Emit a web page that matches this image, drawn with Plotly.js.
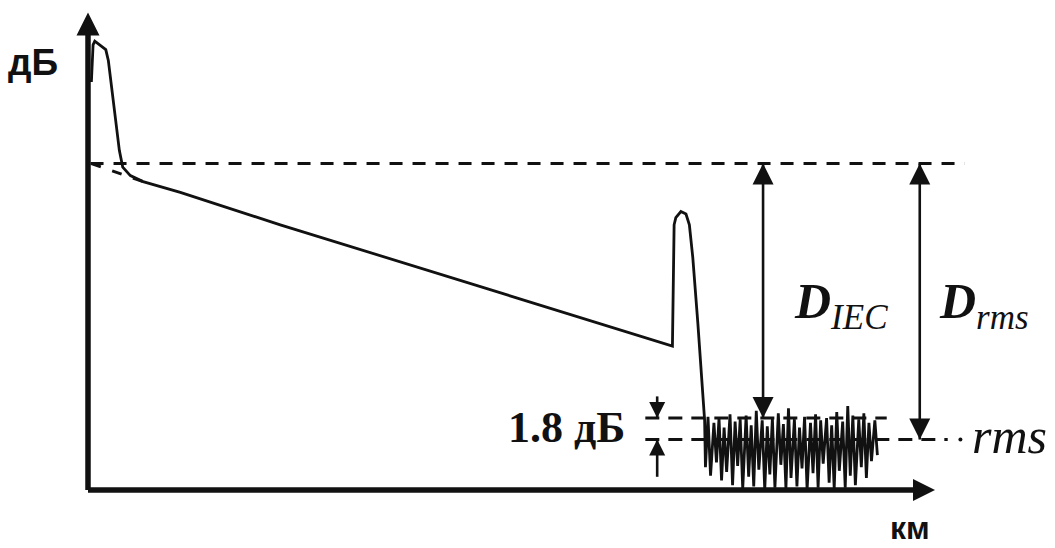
<!DOCTYPE html>
<html>
<head>
<meta charset="utf-8">
<script src="https://cdn.plot.ly/plotly-3.0.1.min.js"></script>
<style>html,body{margin:0;padding:0;background:#fff;}#chart{width:1055px;height:548px;}</style>
</head>
<body>
<div id="chart"></div>
<script>
// OTDR trace: distance (km) and level (dB) – schematic values
const traceKm = [0.4, 0.6, 0.8, 1.2, 1.7, 2.1, 2.4, 2.6, 3.0, 3.3, 3.7, 4.1, 5.0, 6.5, 10.9, 22.7, 69.0, 69.2, 69.4, 70.0, 70.6, 71.0, 71.4, 72.0, 72.5, 72.8];
const traceDb = [34.0, 37.1, 37.4, 37.2, 36.9, 36.7, 35.8, 34.6, 32.5, 30.4, 28.3, 26.9, 26.2, 25.7, 24.8, 22.1, 12.0, 22.1, 22.7, 23.2, 23.0, 22.1, 19.4, 13.9, 8.3, 5.8];
// noise floor after the fibre end
const noiseKm = [72.9, 73.2, 73.5, 73.9, 74.2, 74.5, 74.8, 75.1, 75.4, 75.8, 76.1, 76.4, 76.7, 77.0, 77.3, 77.7, 78.0, 78.3, 78.6, 78.9, 79.2, 79.6, 79.9, 80.2, 80.5, 80.8, 81.1, 81.5, 81.8, 82.1, 82.4, 82.7, 83.0, 83.4, 83.7, 84.0, 84.3, 84.6, 84.9, 85.3, 85.6, 85.9, 86.2, 86.5, 86.8, 87.2, 87.5, 87.8, 88.1, 88.4, 88.7, 89.1, 89.4, 89.7, 90.0, 90.3, 90.6, 91.0, 91.3, 91.6, 91.9, 92.2, 92.5, 92.9, 93.2];
const noiseDb = [1.9, 6.1, 1.2, 5.6, 2.3, 6.0, 0.8, 5.2, 1.5, 6.3, 0.4, 5.7, 2.0, 5.9, 0.1, 6.2, 1.1, 5.4, 0.3, 6.6, 1.7, 5.8, 0.0, 5.3, 1.3, 6.0, 0.2, 6.4, 2.1, 5.5, 0.1, 6.8, 1.0, 5.9, 0.3, 5.2, 1.8, 6.1, 0.0, 5.6, 1.4, 6.3, 0.2, 5.8, 2.2, 6.0, 0.6, 5.4, 0.1, 6.5, 1.6, 5.7, 0.2, 7.0, 1.2, 6.2, 0.4, 5.9, 1.9, 6.4, 1.0, 5.6, 2.4, 5.8, 2.9];
// levels (dB)
const levelTop = 27.2;       // backscatter level extrapolated to the start
const levelNoisePeak = 6.0;  // noise peak level
const levelRms = 4.2;        // rms noise level
const noiseSpan = 1.8;       // dB between rms and noise peak
// extrapolated start of backscatter line
const extrapKm = [0.4, 6.5];
const extrapDb = [27.2, 25.7];
// positions of the dimension arrows (km)
const dIecKm = 79.7;
const dRmsKm = 98.2;
const spanKm = 67.2;
// axis extents
const xAxisEndKm = 100;
const yAxisEndDb = 39.8;
// dashed line extents (km)
const topDashKm = [0.3, 103.5];
const peakDashKm = [65.8, 94.3];
const rmsDashKm = [65.8, 101.5];
const rmsDotKm = 103.0;

const black = '#111111';
const traces = [];
function line(x, y, w, dash) {
  traces.push({type: 'scatter', mode: 'lines', x: x, y: y, hoverinfo: 'skip', showlegend: false,
    line: {color: black, width: w, dash: dash || 'solid', shape: 'linear'}});
}
// axes
line([0, 0], [0, yAxisEndDb - 1.5], 5.5);
line([0, xAxisEndKm - 2], [0, 0], 5.5);
// dashed levels
line(topDashKm, [levelTop, levelTop], 3, '13px,10px');
line(extrapKm, extrapDb, 3, '10px,12px');
line(peakDashKm, [levelNoisePeak, levelNoisePeak], 3, '14px,9px');
line(rmsDashKm, [levelRms, levelRms], 3, '14px,9px');
// trace + noise
line(traceKm.concat(noiseKm), traceDb.concat(noiseDb), 2.8);
// dimension arrows
line([dIecKm, dIecKm], [levelTop, levelNoisePeak], 2.6);
line([dRmsKm, dRmsKm], [levelTop, levelRms], 2.6);
line([spanKm, spanKm], [levelNoisePeak + 1.8, levelNoisePeak], 2.6);
line([spanKm, spanKm], [levelRms - 3.1, levelRms], 2.6);
// arrow heads
traces.push({type: 'scatter', mode: 'markers', hoverinfo: 'skip', showlegend: false,
  x: [0, xAxisEndKm, dIecKm, dIecKm, dRmsKm, dRmsKm, spanKm, spanKm, rmsDotKm],
  y: [yAxisEndDb, 0, levelTop, levelNoisePeak, levelTop, levelRms, levelNoisePeak, levelRms, levelRms],
  marker: {
    symbol: ['arrow-up', 'arrow-right', 'arrow-up', 'arrow-down', 'arrow-up', 'arrow-down', 'arrow-down', 'arrow-up', 'circle'],
    size: [23, 22, 21, 21, 21, 21, 16, 16, 4],
    color: black, opacity: 1, line: {width: 0}
  }
});

const serif = 'Liberation Serif, Times New Roman, serif';
const sans = 'Liberation Sans, Arial, sans-serif';
const layout = {
  width: 1055, height: 548,
  margin: {l: 0, r: 0, t: 0, b: 0, pad: 0},
  paper_bgcolor: '#ffffff', plot_bgcolor: '#ffffff',
  xaxis: {range: [-88 / 8.47, (1055 - 88) / 8.47], visible: false, fixedrange: true},
  yaxis: {range: [-(548 - 490) / 12, 490 / 12], visible: false, fixedrange: true},
  showlegend: false,
  annotations: [
    {x: -6.5, y: 35.6, text: 'дБ', showarrow: false, font: {family: sans, size: 37, color: black, weight: 600}},
    {x: 97.1, y: -3.2, text: 'км', showarrow: false, font: {family: sans, size: 32, color: black, weight: 600}},
    {x: 83.1, y: 15.4, xanchor: 'left', yanchor: 'middle', text: '<b><i>D</i></b><i><sub>IEC</sub></i>', showarrow: false, font: {family: serif, size: 50, color: black}},
    {x: 100.2, y: 15.4, xanchor: 'left', yanchor: 'middle', text: '<b><i>D</i></b><i><sub>rms</sub></i>', showarrow: false, font: {family: serif, size: 50, color: black}},
    {x: 63.6, y: 5.25, xanchor: 'right', yanchor: 'middle', text: '<b>' + noiseSpan.toFixed(1) + ' дБ</b>', showarrow: false, font: {family: serif, size: 44, color: black}},
    {x: 104.1, y: 4.5, xanchor: 'left', yanchor: 'middle', text: '<i>rms</i>', showarrow: false, font: {family: serif, size: 50, color: black}}
  ]
};
Plotly.newPlot('chart', traces, layout, {staticPlot: true, displayModeBar: false});
</script>
</body>
</html>
